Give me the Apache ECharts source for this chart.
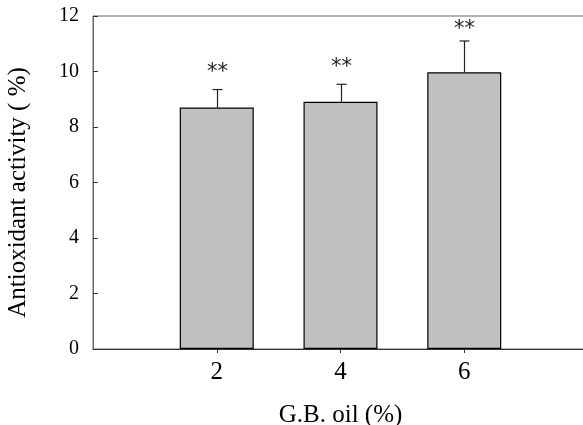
<!DOCTYPE html>
<html><head><meta charset="utf-8">
<script src="https://cdn.jsdelivr.net/npm/echarts@6/dist/echarts.min.js"></script>
<style>html,body{margin:0;padding:0;background:#fff}#c{width:583px;height:425px}</style>
</head><body><div id="c"></div>
<script>
var categories = [2, 4, 6];
var values = [8.70, 8.91, 9.97];
var errors = [0.65, 0.63, 1.13];
var marks = ['**', '**', '**'];
var yTicks = [0, 2, 4, 6, 8, 10, 12];

var markGapPx = [19, 19, 13];
var chart = echarts.init(document.getElementById('c'), null, {renderer: 'canvas'});
var serif = '"Liberation Serif","Times New Roman",serif';
var barData = categories.map(function (c, i) { return [c, values[i]]; });
var errData = categories.map(function (c, i) { return [c, values[i], values[i] + errors[i], i]; });

chart.setOption({
  animation: false,
  grid: {left: 93, top: 16, width: 495, bottom: 76, containLabel: false, outerBoundsMode: 'none',
    show: true, borderColor: '#666', borderWidth: 1, backgroundColor: 'transparent'},
  xAxis: {
    type: 'value', min: 0, max: 8, interval: 2,
    name: 'G.B. oil (%)', nameLocation: 'middle', nameGap: 54,
    nameTextStyle: {fontFamily: serif, fontSize: 25, color: '#000'},
    axisLine: {show: true, lineStyle: {color: '#333', width: 1}},
    axisTick: {show: true, inside: false, length: 4, lineStyle: {color: '#333'}, customValues: categories},
    axisLabel: {fontFamily: serif, fontSize: 25, color: '#000', margin: 11, customValues: categories},
    splitLine: {show: false}
  },
  yAxis: {
    type: 'value', min: 0, max: 12, interval: 2,
    name: 'Antioxidant activity ( %)', nameLocation: 'middle', nameGap: 62,
    nameTextStyle: {fontFamily: serif, fontSize: 25, color: '#000', padding: [0, 20, 0, 0]},
    axisLine: {show: true, lineStyle: {color: '#666', width: 1}},
    axisTick: {show: true, inside: true, length: 5, lineStyle: {color: '#333'}},
    axisLabel: {fontFamily: serif, fontSize: 20, color: '#000', margin: 14,
      formatter: function (v) { return yTicks.indexOf(v) >= 0 ? String(v) : ''; }},
    splitLine: {show: false}
  },
  series: [
    {
      type: 'bar', data: barData, barWidth: 74,
      itemStyle: {color: '#c0c0c0', borderColor: '#000', borderWidth: 1.2}
    },
    {
      type: 'custom', data: errData, z: 1,
      renderItem: function (params, api) {
        var x = api.value(0), lo = api.value(1), hi = api.value(2), i = api.value(3);
        var p0 = api.coord([x, lo]);
        var p1 = api.coord([x, hi]);
        var cx = Math.round(p0[0]) + 0.5;
        var col = '#222';
        return {
          type: 'group',
          children: [
            {type: 'line', shape: {x1: cx, y1: p0[1], x2: cx, y2: p1[1]}, style: {stroke: col, lineWidth: 1.2}},
            {type: 'line', shape: {x1: cx - 5, y1: p1[1], x2: cx + 5, y2: p1[1]}, style: {stroke: col, lineWidth: 1.2}},
            {type: 'text', x: cx, y: p1[1] - markGapPx[i] + 2, style: {text: marks[i], fill: '#222', font: '21px "DejaVu Sans", sans-serif', textAlign: 'center', textVerticalAlign: 'middle'}}
          ]
        };
      }
    }
  ]
});
</script></body></html>
